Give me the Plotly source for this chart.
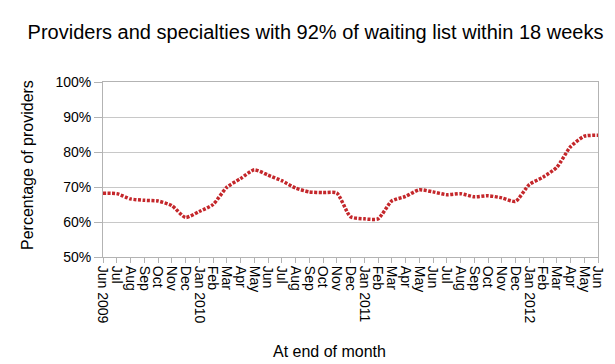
import plotly.graph_objects as go

months = ["Jun 2009", "Jul", "Aug", "Sep", "Oct", "Nov", "Dec", "Jan 2010", "Feb", "Mar", "Apr", "May",
          "Jun", "Jul", "Aug", "Sep", "Oct", "Nov", "Dec", "Jan 2011", "Feb", "Mar", "Apr", "May",
          "Jun", "Jul", "Aug", "Sep", "Oct", "Nov", "Dec", "Jan 2012", "Feb", "Mar", "Apr", "May", "Jun"]
values = [68.2, 68.1, 66.6, 66.2, 66.0, 64.7, 61.3, 63.0, 65.0, 69.9, 72.4, 74.9,
          73.4, 71.8, 69.7, 68.6, 68.4, 68.3, 61.5, 60.9, 60.9, 66.0, 67.3, 69.2,
          68.6, 67.8, 68.1, 67.2, 67.5, 66.9, 65.9, 70.7, 72.8, 75.6, 81.5, 84.5, 84.8]
y_ticks = [50, 60, 70, 80, 90, 100]

idx = list(range(len(months)))
font = "Liberation Sans, Arial, Helvetica, sans-serif"

fig = go.Figure()
fig.add_trace(go.Scatter(
    x=idx, y=values, mode="lines",
    line=dict(color="#c4272b", width=3.5, dash="3px,1.5px", shape="spline", smoothing=0.6),
    hoverinfo="skip", showlegend=False,
))

fig.update_layout(
    width=615, height=364,
    margin=dict(l=95, r=25, t=74, b=115),
    paper_bgcolor="white", plot_bgcolor="white",
    font=dict(family=font, color="black", size=14),
    title=dict(text="Providers and specialties with 92% of waiting list within 18 weeks",
               x=0.5, xanchor="center", y=1 - 24 / 364, yanchor="middle",
               font=dict(size=20, family=font, color="black")),
    showlegend=False,
    annotations=[
        dict(text="At end of month", xref="paper", yref="paper",
             x=(321 - 95) / 495, y=-(343 - 249) / 175, xanchor="center", yanchor="middle",
             showarrow=False, font=dict(size=16, family=font, color="black")),
        dict(text="Percentage of providers", xref="paper", yref="paper",
             x=-(95 - 19) / 495, y=(249 - 157) / 175, xanchor="center", yanchor="middle",
             textangle=-90, showarrow=False, font=dict(size=16, family=font, color="black")),
    ],
)
fig.update_xaxes(
    range=[0, len(months) - 1], automargin=False,
    tickmode="array", tickvals=idx, ticktext=months, tickangle=90,
    ticks="outside", ticklen=5, tickcolor="#b3b3b3", tickwidth=1,
    showgrid=False, showline=True, linecolor="#b3b3b3", linewidth=1, mirror=True,
    zeroline=False, tickfont=dict(size=14),
)
fig.update_yaxes(
    range=[50, 100], automargin=False,
    tickmode="array", tickvals=y_ticks, ticktext=[f"{v}%" for v in y_ticks],
    ticks="outside", ticklen=8, tickcolor="#b3b3b3",
    showgrid=True, gridcolor="#c8c8c8", gridwidth=1,
    showline=True, linecolor="#b3b3b3", linewidth=1, mirror=True,
    zeroline=False, tickfont=dict(size=14),
)

fig.write_html("out.html")
